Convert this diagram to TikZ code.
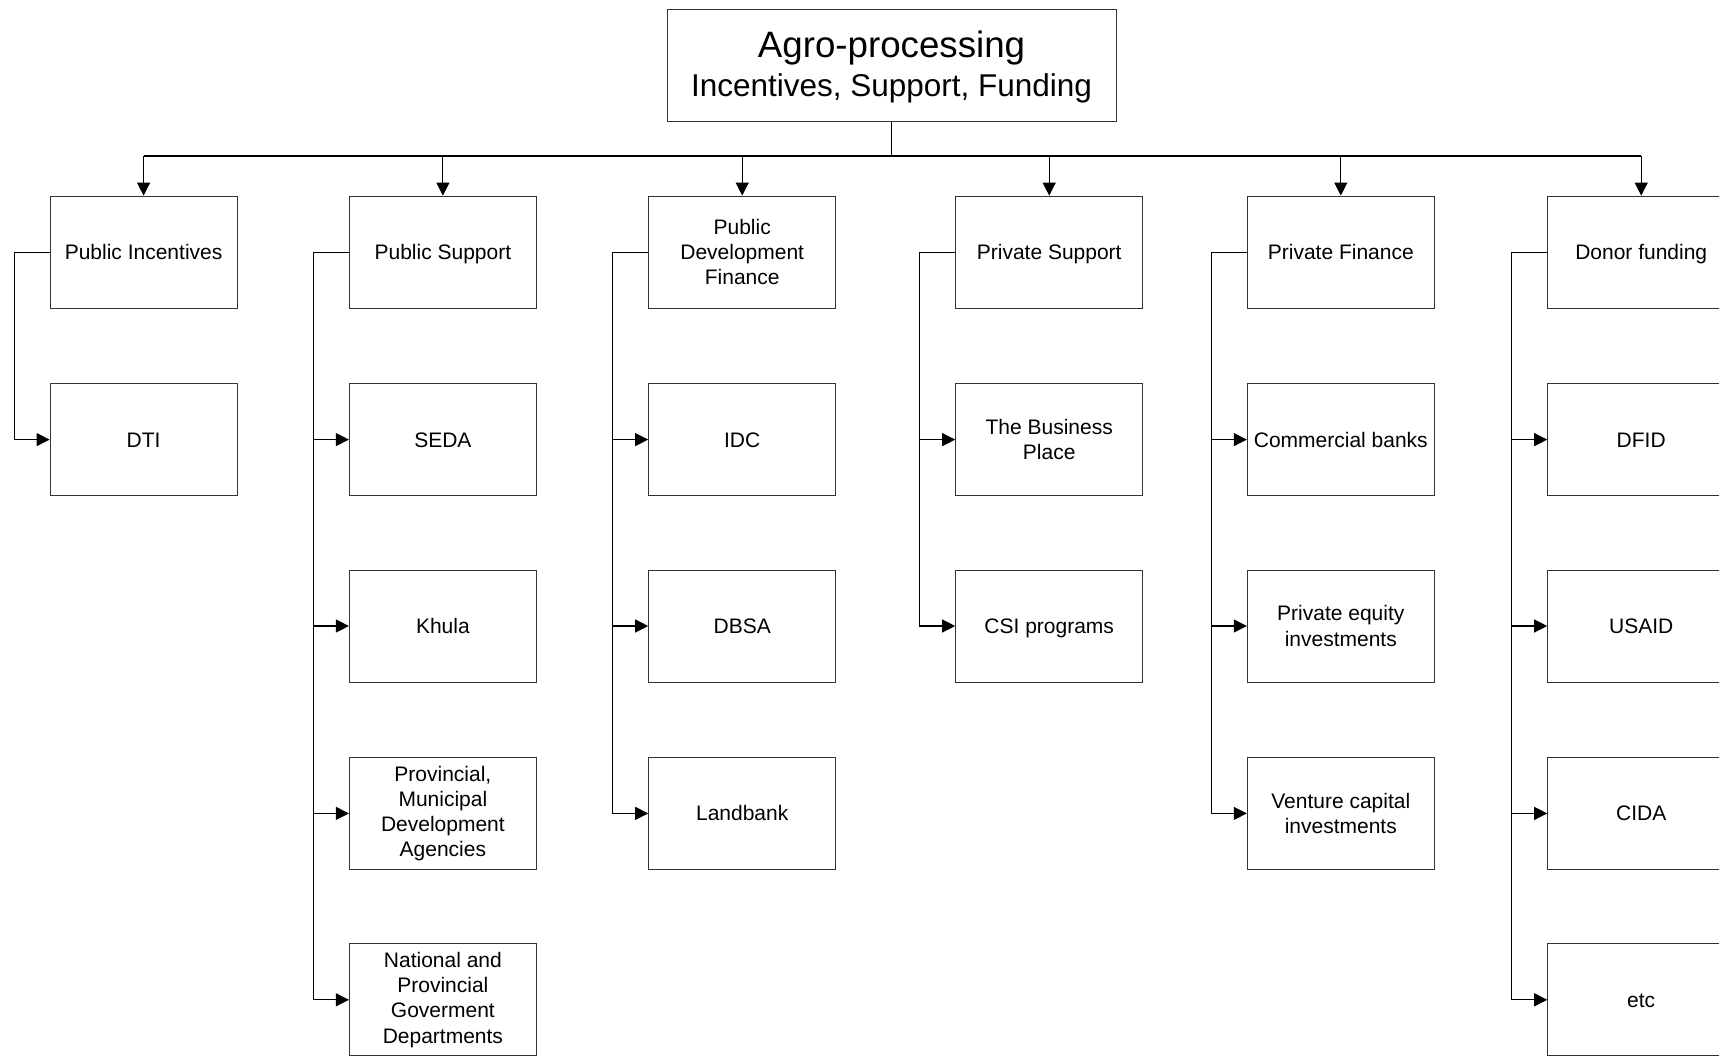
\documentclass[tikz,border=0pt]{standalone}
\usepackage{fontspec}
\setmainfont{Liberation Sans}
\usetikzlibrary{arrows.meta}
\begin{document}
\begin{tikzpicture}[x=1pt,y=-1pt,
  box/.style={draw=black!80,line width=1pt,rectangle,minimum width=187pt,minimum height=112pt,inner sep=0pt,align=center,font=\fontsize{21}{25.2}\selectfont},
  one/.style={box,text height=15pt,text depth=0pt},
  conn/.style={draw=black,line width=1.1pt},
  arr/.style={conn,-{Triangle[length=13pt,width=13pt]}}]
\useasboundingbox (0,0) rectangle (1719,1055);
\node[draw=black!80,line width=1pt,rectangle,minimum width=449pt,minimum height=112pt,inner sep=0pt] (top) at (891.5,65) {};
\node (t1) at (891.5,48) {\fontsize{36.7}{40}\selectfont Agro-processing};
\node (t2) at (891.5,88.5) {\fontsize{31.5}{36}\selectfont Incentives, Support, Funding};
\coordinate (bus) at (891.5,156);
% headers
\node[one] (h1) at (143.6,252.1) {Public Incentives};
\node[one] (h2) at (442.9,252.1) {Public Support};
\node[box] (h3) at (742.2,252.1) {Public\\Development\\Finance};
\node[one] (h4) at (1049.2,252.1) {Private Support};
\node[one] (h5) at (1340.8,252.1) {Private Finance};
\node[one] (h6) at (1641.2,252.1) {Donor funding};
% children
\node[one] (dti) at (143.6,439.6) {DTI};
\node[one] (seda) at (442.9,439.6) {SEDA};
\node[one] (khula) at (442.9,626.0) {Khula};
\node[box] (prov) at (442.9,813.4) {Provincial,\\Municipal\\Development\\Agencies};
\node[box] (nat) at (442.9,999.8) {National and\\Provincial\\Goverment\\Departments};
\node[one] (idc) at (742.2,439.6) {IDC};
\node[one] (dbsa) at (742.2,626.0) {DBSA};
\node[one] (land) at (742.2,813.4) {Landbank};
\node[box] (tbp) at (1049.2,439.6) {The Business\\Place};
\node[one] (csi) at (1049.2,626.0) {CSI programs};
\node[one] (cb) at (1340.8,439.6) {Commercial banks};
\node[box] (pe) at (1340.8,626.0) {Private equity\\investments};
\node[box] (vc) at (1340.8,813.4) {Venture capital\\investments};
\node[one] (dfid) at (1641.2,439.6) {DFID};
\node[one] (usaid) at (1641.2,626.0) {USAID};
\node[one] (cida) at (1641.2,813.4) {CIDA};
\node[one] (etc) at (1641.2,999.8) {etc};
% bus
\draw[conn] (top.south) -- (bus);
\draw[conn] (h1.north |- bus) -- (h6.north |- bus);
\foreach \h in {h1,h2,h3,h4,h5,h6} \draw[arr] (\h.north |- bus) -- (\h.north);
% spines
\foreach \c in {dti} \draw[arr] (h1.west) -- ++(-35.5,0) |- (\c.west);
\foreach \c in {seda,khula,prov,nat} \draw[arr] (h2.west) -- ++(-35.5,0) |- (\c.west);
\foreach \c in {idc,dbsa,land} \draw[arr] (h3.west) -- ++(-35.5,0) |- (\c.west);
\foreach \c in {tbp,csi} \draw[arr] (h4.west) -- ++(-35.5,0) |- (\c.west);
\foreach \c in {cb,pe,vc} \draw[arr] (h5.west) -- ++(-35.5,0) |- (\c.west);
\foreach \c in {dfid,usaid,cida,etc} \draw[arr] (h6.west) -- ++(-35.5,0) |- (\c.west);
\end{tikzpicture}
\end{document}
